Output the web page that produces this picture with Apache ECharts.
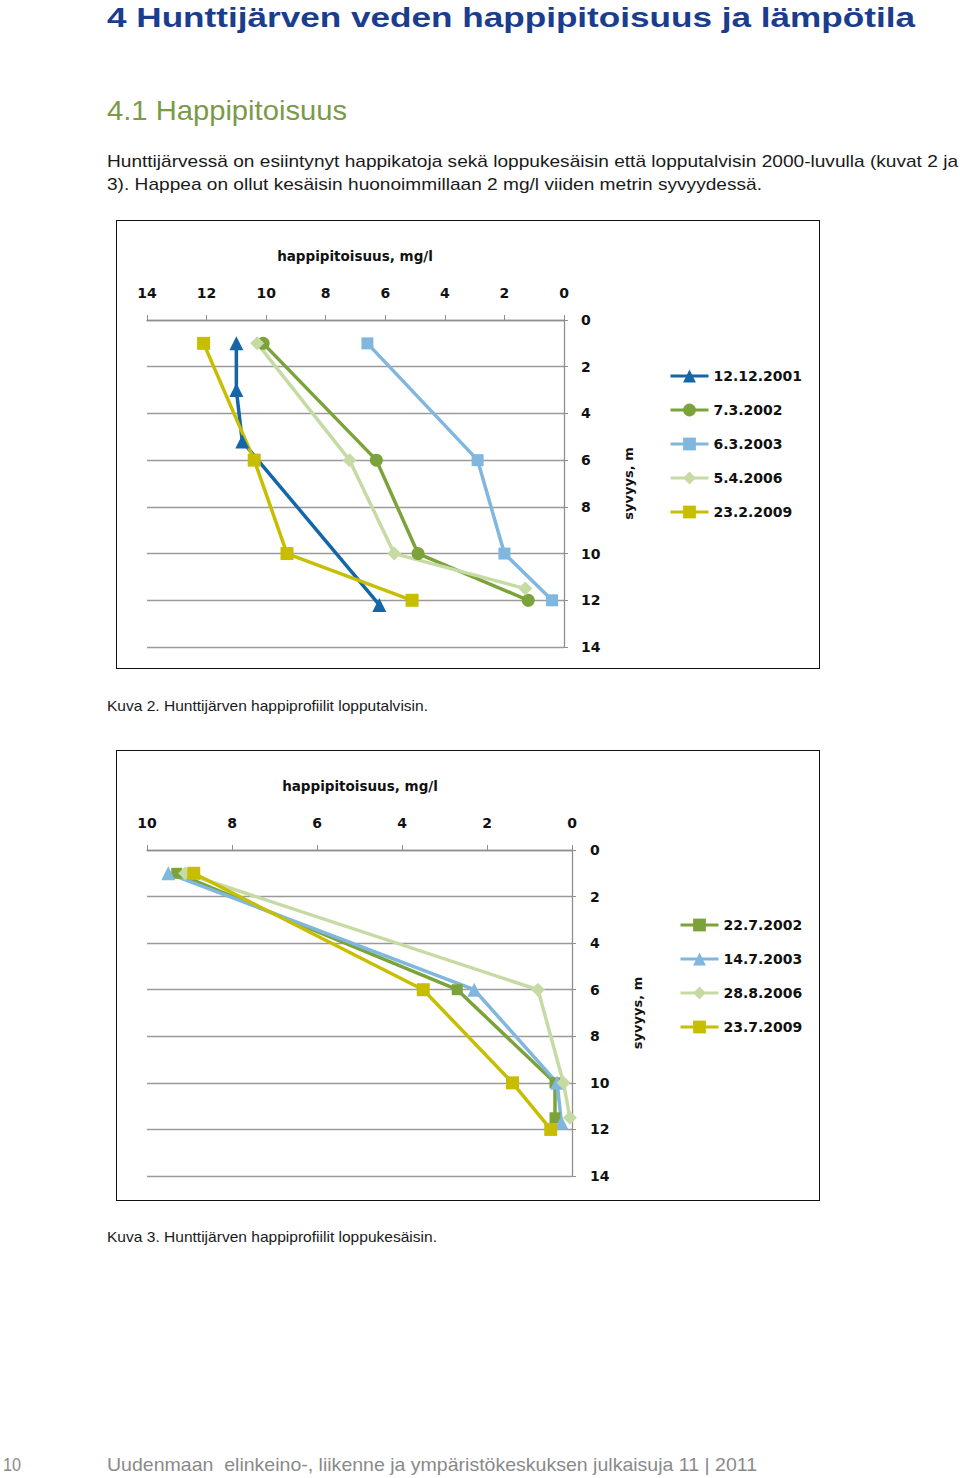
<!DOCTYPE html>
<html><head><meta charset="utf-8">
<script src="https://cdn.jsdelivr.net/npm/echarts@6/dist/echarts.min.js"></script>
<style>
html,body{margin:0;padding:0;background:#fff;width:960px;height:1478px;overflow:hidden;position:relative}
.chart{position:absolute}
.frame{position:absolute;border:1.5px solid #111;box-sizing:border-box;pointer-events:none}
svg.page{position:absolute;left:0;top:0}
svg.page text{white-space:pre}
</style></head><body>
<svg class="page" width="960" height="1478" xmlns="http://www.w3.org/2000/svg">
  <text x="107" y="27" textLength="808" lengthAdjust="spacingAndGlyphs" font-family="Liberation Sans" font-weight="bold" font-size="28" fill="#1B3D8E">4 Hunttijärven veden happipitoisuus ja lämpötila</text>
  <text x="107" y="120" textLength="240" lengthAdjust="spacingAndGlyphs" font-family="Liberation Sans" font-size="28" fill="#7B9A48">4.1 Happipitoisuus</text>
  <text x="107" y="167" textLength="851" lengthAdjust="spacingAndGlyphs" font-family="Liberation Sans" font-size="17" fill="#1a1a1a">Hunttijärvessä on esiintynyt happikatoja sekä loppukesäisin että lopputalvisin 2000-luvulla (kuvat 2 ja</text>
  <text x="107" y="190" textLength="655" lengthAdjust="spacingAndGlyphs" font-family="Liberation Sans" font-size="17" fill="#1a1a1a">3). Happea on ollut kesäisin huonoimmillaan 2 mg/l viiden metrin syvyydessä.</text>
  <text x="107" y="711" textLength="321" lengthAdjust="spacingAndGlyphs" font-family="Liberation Sans" font-size="15" fill="#1a1a1a">Kuva 2. Hunttijärven happiprofiilit lopputalvisin.</text>
  <text x="107" y="1242" textLength="330" lengthAdjust="spacingAndGlyphs" font-family="Liberation Sans" font-size="15" fill="#1a1a1a">Kuva 3. Hunttijärven happiprofiilit loppukesäisin.</text>
  <text x="3" y="1471" textLength="18" lengthAdjust="spacingAndGlyphs" font-family="Liberation Sans" font-size="19" fill="#8a8a8a">10</text>
  <text x="107" y="1471" textLength="650" lengthAdjust="spacingAndGlyphs" font-family="Liberation Sans" font-size="19" fill="#8a8a8a">Uudenmaan  elinkeino-, liikenne ja ympäristökeskuksen julkaisuja 11 | 2011</text>
</svg>
<div id="c1" class="chart" style="left:116px;top:220px;width:704px;height:449px"></div>
<div class="frame" style="left:116px;top:220px;width:704px;height:449px"></div>
<div id="c2" class="chart" style="left:116px;top:750px;width:704px;height:451px"></div>
<div class="frame" style="left:116px;top:750px;width:704px;height:451px"></div>
<script>
// ---- Chart 1 (Kuva 2): late-winter oxygen profiles ----
const names1 = ['12.12.2001', '7.3.2002', '6.3.2003', '5.4.2006', '23.2.2009'];
const depth_2001_12 = [1, 3, 5.2, 12.2];
const o2_2001_12    = [11.0, 11.0, 10.8, 6.2];
const depth_2002_03 = [1, 6, 10, 12];
const o2_2002_03    = [10.1, 6.3, 4.9, 1.2];
const depth_2003_03 = [1, 6, 10, 12];
const o2_2003_03    = [6.6, 2.9, 2.0, 0.4];
const depth_2006_04 = [1, 6, 10, 11.5];
const o2_2006_04    = [10.3, 7.2, 5.7, 1.3];
const depth_2009_02 = [1, 6, 10, 12];
const o2_2009_02    = [12.1, 10.4, 9.3, 5.1];

// ---- Chart 2 (Kuva 3): late-summer oxygen profiles ----
const names2 = ['22.7.2002', '14.7.2003', '28.8.2006', '23.7.2009'];
const depth_2002_07 = [1, 6, 10, 11.5];
const o2_2002_07    = [9.3, 2.7, 0.4, 0.4];
const depth_2003_07 = [1, 6, 10, 11.7];
const o2_2003_07    = [9.5, 2.3, 0.35, 0.25];
const depth_2006_08 = [1, 6, 10, 11.5];
const o2_2006_08    = [9.1, 0.8, 0.2, 0.05];
const depth_2009_07 = [1, 6, 10, 12];
const o2_2009_07    = [8.9, 3.5, 1.4, 0.5];

const xTitle = 'happipitoisuus, mg/l';
const yTitle = 'syvyys, m';

const FONT = 'DejaVu Sans';
function pairs(vals, depths){ return vals.map((v,i)=>[v, depths[i]]); }
function ser(name, vals, depths, color, symbol, size){
  return {type:'line', name, data:pairs(vals, depths), symbol, symbolSize:size,
    lineStyle:{width:3.5, color}, itemStyle:{color}, emphasis:{disabled:true},
    animation:false, z:2};
}
function makeOption(c){
  return {
    animation:false,
    grid:{left:c.gl, top:100, width:c.gw, height:c.gh, containLabel:false},
    xAxis:{type:'value', position:'top', inverse:true, min:0, max:c.xmax, interval:2,
      axisLine:{show:true, lineStyle:{color:'#8f8f8f', width:1.3}},
      axisTick:{show:true, inside:false, length:5, lineStyle:{color:'#8f8f8f'}},
      splitLine:{show:false},
      axisLabel:{margin:20, color:'#111', fontFamily:FONT, fontWeight:'bold', fontSize:14}},
    yAxis:{type:'value', position:'right', inverse:true, min:0, max:14, interval:2,
      axisLine:{show:true, onZero:false, lineStyle:{color:'#8f8f8f', width:1.3}},
      axisTick:{show:true, inside:false, length:4, lineStyle:{color:'#8f8f8f'}},
      splitLine:{show:true, lineStyle:{color:'#9a9a9a', width:1.3}},
      axisLabel:{margin:c.lm, color:'#111', fontFamily:FONT, fontWeight:'bold', fontSize:14},
      name:yTitle, nameLocation:'middle', nameRotate:90, nameGap:c.ng,
      nameTextStyle:{color:'#111', fontFamily:FONT, fontWeight:'bold', fontSize:13}},
    legend:{orient:'vertical', left:c.ll, top:c.lt, padding:0, itemWidth:38, itemHeight:16, itemGap:20,
      data:c.names, selectedMode:false, lineStyle:{width:3},
      textStyle:{color:'#111', fontFamily:FONT, fontWeight:'bold', fontSize:14}},
    graphic:[{type:'text', x:c.tx, y:36, silent:true,
      style:{text:xTitle, fill:'#111', fontFamily:FONT, fontWeight:'bold', fontSize:13.5,
        align:'center', verticalAlign:'middle', textAlign:'center', textVerticalAlign:'middle'}}],
    series:c.series
  };
}
const BLUE='#1565A9', GREEN='#7BA33A', LBLUE='#80B7DF', PGREEN='#C6DBA4', OLIVE='#C8BE00';

const ch1 = echarts.init(document.getElementById('c1'), null, {renderer:'svg'});
ch1.setOption(makeOption({
  gl:31, gw:417, gh:327, xmax:14, lm:17, ng:58, ll:553, lt:149, tx:239, names:names1,
  series:[
    ser(names1[0], o2_2001_12, depth_2001_12, BLUE, 'triangle', 14),
    ser(names1[1], o2_2002_03, depth_2002_03, GREEN, 'circle', 13),
    ser(names1[2], o2_2003_03, depth_2003_03, LBLUE, 'rect', 12),
    ser(names1[3], o2_2006_04, depth_2006_04, PGREEN, 'diamond', 14),
    ser(names1[4], o2_2009_02, depth_2009_02, OLIVE, 'rect', 13)
  ]}));

const ch2 = echarts.init(document.getElementById('c2'), null, {renderer:'svg'});
ch2.setOption(makeOption({
  gl:31, gw:425, gh:326, xmax:10, lm:18, ng:59, ll:563, lt:168, tx:244, names:names2,
  series:[
    ser(names2[0], o2_2002_07, depth_2002_07, GREEN, 'rect', 11),
    ser(names2[1], o2_2003_07, depth_2003_07, LBLUE, 'triangle', 14),
    ser(names2[2], o2_2006_08, depth_2006_08, PGREEN, 'diamond', 14),
    ser(names2[3], o2_2009_07, depth_2009_07, OLIVE, 'rect', 13)
  ]}));
</script>
</body></html>
